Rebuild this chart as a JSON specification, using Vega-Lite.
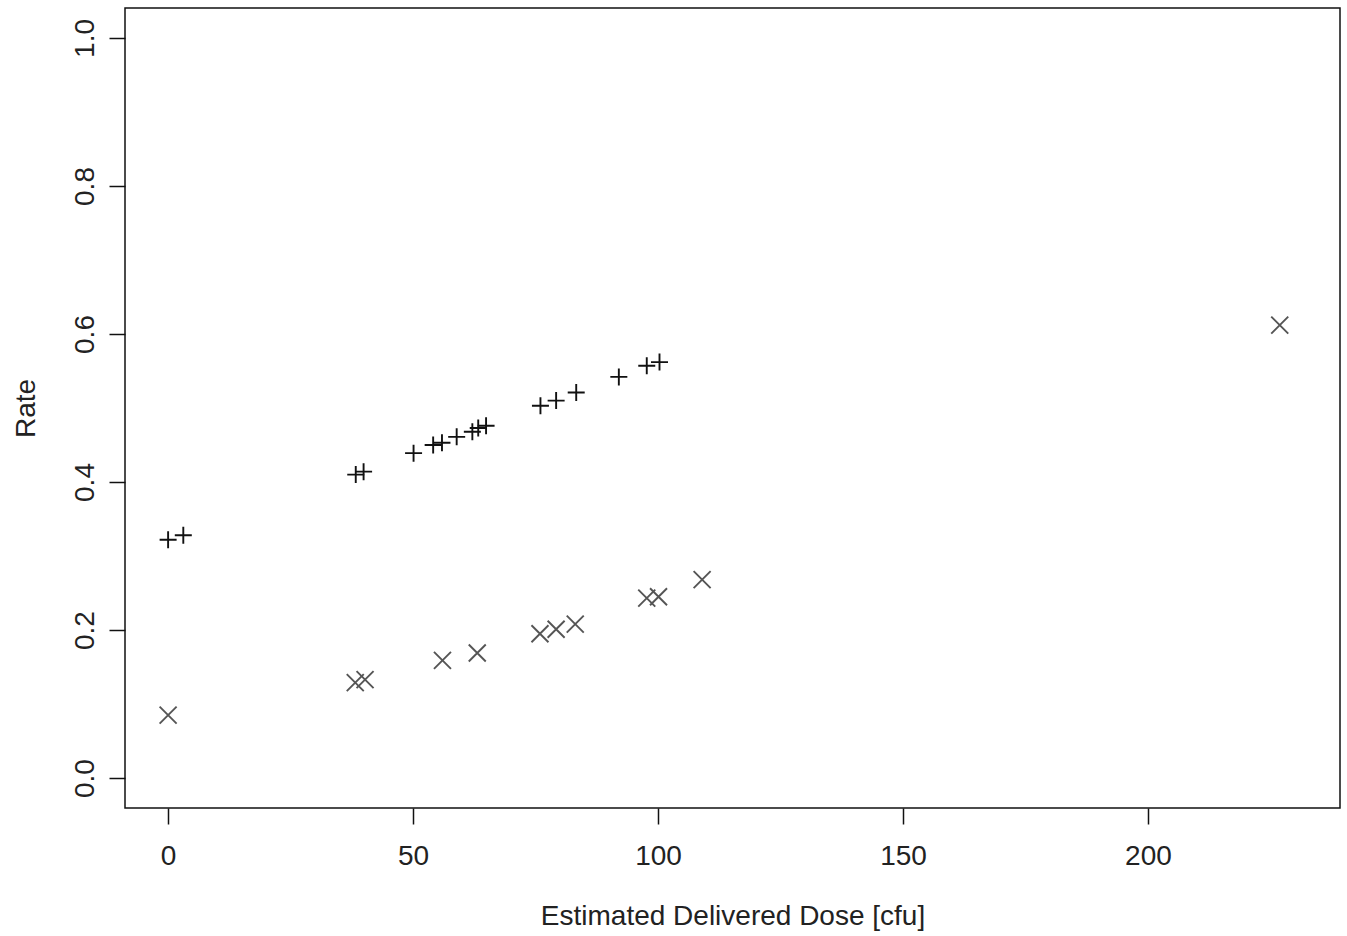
{
  "$schema": "https://vega.github.io/schema/vega-lite/v6.json",
  "width": 1215,
  "height": 800,
  "autosize": {"type": "none"},
  "padding": {"left": 125, "top": 8, "right": 7, "bottom": 128},
  "background": "white",
  "config": {
    "font": "Liberation Sans",
    "view": {"stroke": "#111", "strokeWidth": 1.5},
    "axis": {
      "domain": false,
      "grid": false,
      "tickColor": "#111",
      "tickWidth": 1.5,
      "tickSize": 16,
      "labelFont": "Liberation Sans",
      "labelFontSize": 28,
      "labelColor": "#222",
      "titleFont": "Liberation Sans",
      "titleFontSize": 28,
      "titleFontWeight": "normal",
      "titleColor": "#222"
    }
  },
  "data": {
    "values": [
      {"dose": 0.0, "rate": 0.322, "series": "plus"},
      {"dose": 3.1, "rate": 0.328, "series": "plus"},
      {"dose": 38.3, "rate": 0.410, "series": "plus"},
      {"dose": 39.9, "rate": 0.414, "series": "plus"},
      {"dose": 50.1, "rate": 0.439, "series": "plus"},
      {"dose": 54.1, "rate": 0.450, "series": "plus"},
      {"dose": 55.9, "rate": 0.453, "series": "plus"},
      {"dose": 58.9, "rate": 0.461, "series": "plus"},
      {"dose": 62.1, "rate": 0.468, "series": "plus"},
      {"dose": 63.3, "rate": 0.473, "series": "plus"},
      {"dose": 64.9, "rate": 0.476, "series": "plus"},
      {"dose": 76.0, "rate": 0.503, "series": "plus"},
      {"dose": 79.2, "rate": 0.510, "series": "plus"},
      {"dose": 83.3, "rate": 0.521, "series": "plus"},
      {"dose": 92.0, "rate": 0.542, "series": "plus"},
      {"dose": 97.7, "rate": 0.557, "series": "plus"},
      {"dose": 100.3, "rate": 0.562, "series": "plus"},
      {"dose": 0.0, "rate": 0.085, "series": "cross"},
      {"dose": 38.2, "rate": 0.129, "series": "cross"},
      {"dose": 40.2, "rate": 0.133, "series": "cross"},
      {"dose": 56.0, "rate": 0.159, "series": "cross"},
      {"dose": 63.1, "rate": 0.169, "series": "cross"},
      {"dose": 75.9, "rate": 0.195, "series": "cross"},
      {"dose": 79.2, "rate": 0.201, "series": "cross"},
      {"dose": 83.1, "rate": 0.208, "series": "cross"},
      {"dose": 97.7, "rate": 0.243, "series": "cross"},
      {"dose": 100.1, "rate": 0.245, "series": "cross"},
      {"dose": 109.0, "rate": 0.268, "series": "cross"},
      {"dose": 226.9, "rate": 0.612, "series": "cross"}
    ]
  },
  "mark": {"type": "point", "filled": false, "size": 289, "strokeWidth": 1.9, "opacity": 1},
  "encoding": {
    "x": {
      "field": "dose",
      "type": "quantitative",
      "title": "Estimated Delivered Dose [cfu]",
      "scale": {"domain": [-8.8, 239.2], "nice": false, "zero": false},
      "axis": {"values": [0, 50, 100, 150, 200], "labelPadding": 18, "titlePadding": 32}
    },
    "y": {
      "field": "rate",
      "type": "quantitative",
      "title": "Rate",
      "scale": {"domain": [-0.0405, 1.0405], "nice": false, "zero": false},
      "axis": {
        "values": [0, 0.2, 0.4, 0.6, 0.8, 1.0],
        "format": ".1f",
        "labelAngle": -90,
        "labelAlign": "center",
        "labelBaseline": "bottom",
        "labelPadding": 10,
        "titlePadding": 31
      }
    },
    "shape": {
      "field": "series",
      "type": "nominal",
      "scale": {"domain": ["plus", "cross"], "range": ["M-1,0L1,0M0,-1L0,1", "M-1,-1L1,1M-1,1L1,-1"]},
      "legend": null
    },
    "color": {
      "field": "series",
      "type": "nominal",
      "scale": {"domain": ["plus", "cross"], "range": ["#111111", "#555555"]},
      "legend": null
    }
  }
}
